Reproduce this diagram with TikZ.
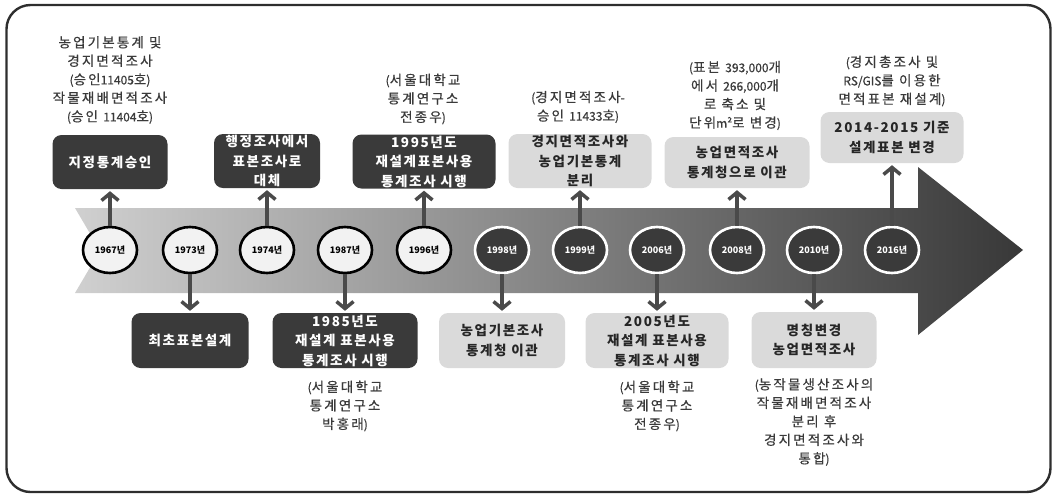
\documentclass[tikz,border=0pt]{standalone}
\usepackage{fontspec}
\usetikzlibrary{shapes.geometric,arrows.meta,shadings}
\newfontfamily\krA{Noto Sans CJK KR}[LetterSpace=16,FakeBold=0.5]
\newfontfamily\krB{Noto Sans CJK KR}[LetterSpace=12]
\newfontfamily\krC{Noto Sans CJK KR}
\newfontfamily\krD{Noto Sans CJK KR}[FakeBold=0.5]
\newcommand\numtxt[1]{{\krD\fontsize{12}{18.5}\selectfont #1}}
\definecolor{dkbox}{HTML}{3A3A3A}
\definecolor{ltbox}{HTML}{DADADA}
\definecolor{txtc}{HTML}{3A3A3A}
\definecolor{arrc}{HTML}{4A4A4A}
\definecolor{framec}{HTML}{2E2E2E}
\definecolor{circw}{HTML}{F2F2F2}
\definecolor{circd}{HTML}{3A3A3A}
\definecolor{bandl}{HTML}{D0D0D0}
\definecolor{bandm}{HTML}{7E7E7E}
\definecolor{bandr}{HTML}{383838}
\begin{document}
\begin{tikzpicture}[x=1pt,y=-1pt,
  note/.style={align=center, text=txtc, inner sep=0pt,
    font=\krA\fontsize{13.5}{18.5}\selectfont},
  boxbase/.style={rounded corners=9pt, minimum height=54pt, align=center, inner sep=0pt,
    font=\krB\bfseries\fontsize{13.5}{19.5}\selectfont},
  dkb/.style={boxbase, fill=dkbox, text=white},
  ltb/.style={boxbase, fill=ltbox, text=black!85},
  yrbase/.style={ellipse, minimum width=54pt, minimum height=46pt, inner sep=0pt,
    line width=2.6pt, font=\krC\bfseries\fontsize{9}{10}\selectfont},
  yw/.style={yrbase, draw=black, fill=circw, text=black},
  yd/.style={yrbase, draw=white, fill=circd, text=white},
  conn/.style={line width=3.5pt, draw=arrc, -{Straight Barb[length=7pt,width=17pt]}, shorten >=2pt}
]
\useasboundingbox (0,0) rectangle (1056,496);
% frame
\draw[line width=2.4pt, draw=framec, rounded corners=24pt] (6.5,5) rectangle (1050.5,492);
% band arrow
\shade[left color=bandl, middle color=bandm, right color=bandr]
  (75,208) -- (918,208) -- (918,167) -- (1023,250) -- (918,335) -- (918,293)
  -- (75,293) -- (100,250.5) -- cycle;

% annotations
\node[note] (n1967) at (110,80) {농업기본통계 및\\경지면적조사\\\numtxt{(}승인\numtxt{11405}호\numtxt{)}\\작물재배면적조사\\\numtxt{(}승인 \numtxt{11404}호\numtxt{)}};
\node[note] (n1996) at (423,99) {\numtxt{(}서울대학교\\통계연구소\\전종우\numtxt{)}};
\node[note] (n1999) at (578,107) {\numtxt{(}경지면적조사\numtxt{-}\\승인 \numtxt{11433}호\numtxt{)}};
\node[note] (n2008) at (735,95.5) {\numtxt{(}표본 \numtxt{393,000}개\\에서 \numtxt{266,000}개\\로 축소 및\\단위\numtxt{m²}로 변경\numtxt{)}};
\node[note] (n2016) at (892,81) {\numtxt{(}경지총조사 및\\\numtxt{RS/GIS}를 이용한\\면적표본 재설계\numtxt{)}};
\node[note] (n1987) at (345,406) {\numtxt{(}서울대학교\\통계연구소\\박홍래\numtxt{)}};
\node[note] (n2006) at (657,406) {\numtxt{(}서울대학교\\통계연구소\\전종우\numtxt{)}};
\node[note] (n2010) at (814,422) {\numtxt{(}농작물생산조사의\\작물재배면적조사\\분리 후\\경지면적조사와\\통합\numtxt{)}};

% boxes
\node[dkb, minimum width=115pt] (b1967) at (110,162) {지정통계승인};
\node[dkb, minimum width=106pt] (b1974) at (267,161) {행정조사에서\\표본조사로\\대체};
\node[dkb, minimum width=143pt] (b1996) at (424,161.5) {1995년도\\재설계표본사용\\통계조사 시행};
\node[ltb, minimum width=143pt] (b1999) at (580,161) {경지면적조사와\\농업기본통계\\분리};
\node[ltb, minimum width=145pt, minimum height=51pt] (b2008) at (737,162.5) {농업면적조사\\통계청으로 이관};
\node[ltb, minimum width=143pt, minimum height=51pt] (b2016) at (892,137.5) {2014-2015 기준\\설계표본 변경};
\node[dkb, minimum width=117pt, minimum height=55pt] (b1973) at (190,340.5) {최초표본설계};
\node[dkb, minimum width=145pt, minimum height=55pt] (b1987) at (345,340.5) {1985년도\\재설계 표본사용\\통계조사 시행};
\node[ltb, minimum width=126pt, minimum height=55pt] (b1998) at (502,340.5) {농업기본조사\\통계청 이관};
\node[ltb, minimum width=143pt, minimum height=55pt] (b2006) at (657,340.5) {2005년도\\재설계 표본사용\\통계조사 시행};
\node[ltb, minimum width=125pt, minimum height=56pt] (b2010) at (814,340) {명칭변경\\농업면적조사};

% year ellipses
\node[yw] (y1967) at (110,250) {1967년};
\node[yw] (y1973) at (190,250) {1973년};
\node[yw] (y1974) at (267,250) {1974년};
\node[yw] (y1987) at (345,250) {1987년};
\node[yw] (y1996) at (424,250) {1996년};
\node[yd] (y1998) at (502,250) {1998년};
\node[yd] (y1999) at (580,250) {1999년};
\node[yd] (y2006) at (657,250) {2006년};
\node[yd] (y2008) at (737,250) {2008년};
\node[yd] (y2010) at (814,250) {2010년};
\node[yd] (y2016) at (892,250) {2016년};

% connectors
\draw[conn] (y1967) -- (b1967);
\draw[conn] (y1974) -- (b1974);
\draw[conn] (y1996) -- (b1996);
\draw[conn] (y1999) -- (b1999);
\draw[conn] (y2008) -- (b2008);
\draw[conn] (y2016) -- (b2016);
\draw[conn] (y1973) -- (b1973);
\draw[conn] (y1987) -- (b1987);
\draw[conn] (y1998) -- (b1998);
\draw[conn] (y2006) -- (b2006);
\draw[conn] (y2010) -- (b2010);
\end{tikzpicture}
\end{document}
